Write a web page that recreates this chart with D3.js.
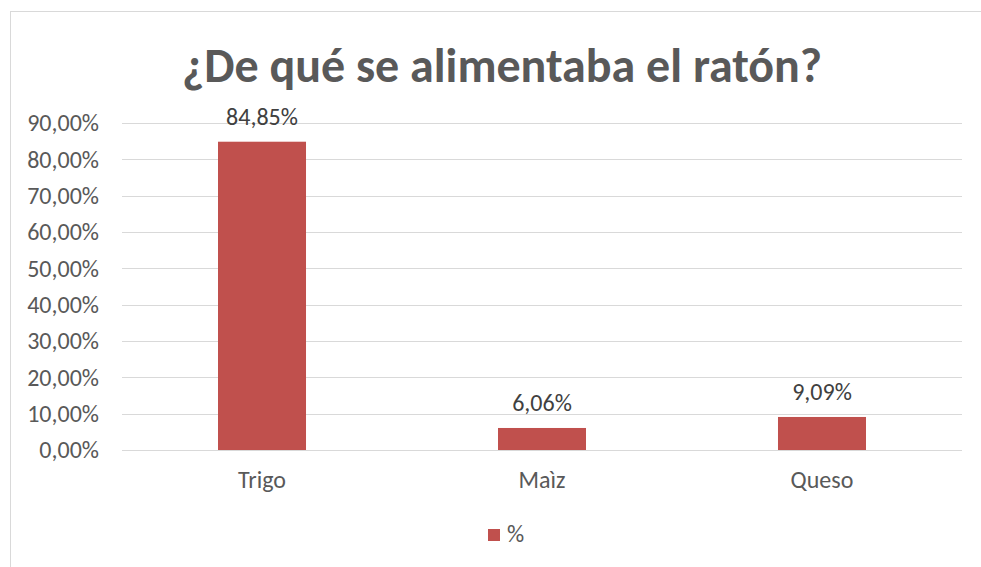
<!DOCTYPE html>
<html>
<head>
<meta charset="utf-8">
<script src="https://cdn.jsdelivr.net/npm/d3@7"></script>
<style>
  body { margin: 0; background: #fff; }
  svg { display: block; font-family: Carlito, "Open Sans", sans-serif; }
</style>
</head>
<body>
<svg id="chart" width="981" height="567"></svg>
<script>
var categories = ["Trigo", "Maìz", "Queso"];
var values = [84.85, 6.06, 9.09];
var valueLabels = ["84,85%", "6,06%", "9,09%"];
var yTicks = [0, 10, 20, 30, 40, 50, 60, 70, 80, 90];
var seriesName = "%";

var svg = d3.select("#chart");
var barColor = "#c0504d";
var labelFont = "24px";

// chart frame
svg.append("rect")
  .attr("x", 10.5).attr("y", 11.5)
  .attr("width", 990).attr("height", 600)
  .attr("fill", "#fff")
  .attr("stroke", "#d9d9d9");

var plotLeft = 122, plotRight = 962, plotTop = 123, plotBottom = 450;

var x = d3.scaleBand()
  .domain(categories)
  .range([plotLeft, plotRight])
  .paddingInner(0.6857)
  .paddingOuter(0.3429);

var y = d3.scaleLinear()
  .domain([0, 90])
  .range([plotBottom, plotTop]);

// gridlines
svg.append("g")
  .selectAll("line")
  .data(yTicks)
  .enter().append("line")
  .attr("x1", plotLeft).attr("x2", plotRight)
  .attr("y1", function(d) { return Math.round(y(d)) + 0.5; })
  .attr("y2", function(d) { return Math.round(y(d)) + 0.5; })
  .attr("stroke", "#d9d9d9")
  .attr("stroke-width", 1);

// y axis labels
var yAxis = d3.axisLeft(y)
  .tickValues(yTicks)
  .tickSize(0)
  .tickPadding(23)
  .tickFormat(function(d) { return d3.format(".2f")(d).replace(".", ",") + "%"; });

var gy = svg.append("g")
  .attr("transform", "translate(" + plotLeft + ",0)")
  .call(yAxis);
gy.select(".domain").remove();
gy.selectAll("text")
  .attr("fill", "#595959")
  .style("font-size", labelFont)
  .style("font-family", "Carlito, 'Open Sans', sans-serif");

// bars
svg.append("g")
  .selectAll("rect")
  .data(values)
  .enter().append("rect")
  .attr("x", function(d, i) { return x(categories[i]); })
  .attr("y", function(d) { return y(d); })
  .attr("width", x.bandwidth())
  .attr("height", function(d) { return plotBottom - y(d); })
  .attr("fill", barColor);

// data labels
svg.append("g")
  .selectAll("text")
  .data(values)
  .enter().append("text")
  .attr("x", function(d, i) { return x(categories[i]) + x.bandwidth() / 2; })
  .attr("y", function(d) { return y(d) - 17; })
  .attr("text-anchor", "middle")
  .attr("fill", "#404040")
  .style("font-size", labelFont)
  .text(function(d, i) { return valueLabels[i]; });

// x axis labels
var xAxis = d3.axisBottom(x).tickSize(0).tickPadding(21);
var gx = svg.append("g")
  .attr("transform", "translate(0," + plotBottom + ")")
  .call(xAxis);
gx.select(".domain").remove();
gx.selectAll("text")
  .attr("fill", "#595959")
  .style("font-size", labelFont)
  .style("font-family", "Carlito, 'Open Sans', sans-serif");

// title
svg.append("text")
  .attr("x", 502)
  .attr("y", 82)
  .attr("text-anchor", "middle")
  .attr("fill", "#595959")
  .style("font-size", "48px")
  .style("font-weight", "bold")
  .text("¿De qué se alimentaba el ratón?");

// legend
var legend = svg.append("g").attr("transform", "translate(488,529)");
legend.append("rect")
  .attr("width", 12).attr("height", 12)
  .attr("fill", barColor);
legend.append("text")
  .attr("x", 19).attr("y", 13)
  .attr("fill", "#595959")
  .style("font-size", labelFont)
  .text(seriesName);
</script>
</body>
</html>
